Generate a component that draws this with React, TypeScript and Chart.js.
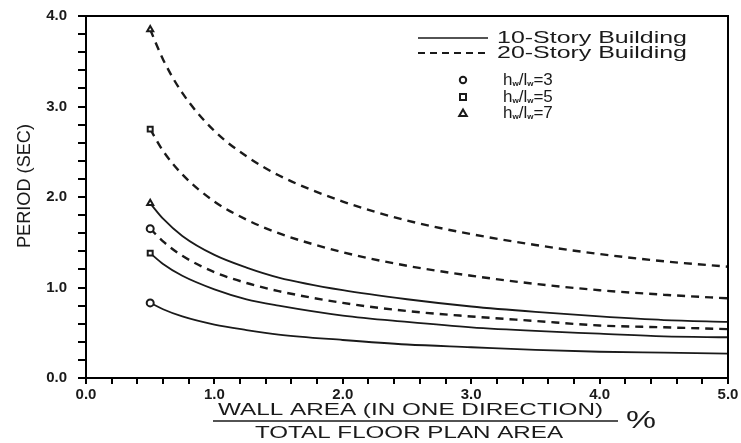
import React, { useEffect, useRef } from "react";
import { Chart, registerables } from "chart.js";

Chart.register(...registerables);

// Wall area ratio (%) sample positions
const areaPct = [0.5, 0.6, 0.75, 1.0, 1.25, 1.5, 2.0, 2.5, 3.0, 3.5, 4.0, 4.5, 5.0];

// 10-story building periods (sec)
const story10_hl3 = [0.83, 0.76, 0.68, 0.59, 0.53, 0.48, 0.42, 0.37, 0.34, 0.31, 0.29, 0.28, 0.27];
const story10_hl5 = [1.38, 1.26, 1.13, 0.98, 0.87, 0.8, 0.69, 0.62, 0.56, 0.52, 0.49, 0.46, 0.45];
const story10_hl7 = [1.93, 1.76, 1.57, 1.36, 1.22, 1.11, 0.97, 0.87, 0.79, 0.73, 0.68, 0.64, 0.62];

// 20-story building periods (sec)
const story20_hl3 = [1.65, 1.51, 1.35, 1.17, 1.05, 0.96, 0.83, 0.74, 0.68, 0.63, 0.58, 0.56, 0.54];
const story20_hl5 = [2.75, 2.51, 2.25, 1.95, 1.75, 1.6, 1.39, 1.24, 1.13, 1.04, 0.97, 0.92, 0.88];
const story20_hl7 = [3.85, 3.52, 3.15, 2.73, 2.45, 2.24, 1.95, 1.74, 1.59, 1.47, 1.37, 1.29, 1.23];

const xTickLabels = ["0.0", "1.0", "2.0", "3.0", "4.0", "5.0"];
const yTickLabels = ["0.0", "1.0", "2.0", "3.0", "4.0"];

const legendLines = ["10-Story Building", "20-Story Building"];
const legendRatios = ["3", "5", "7"];

const INK = "#1a1a1a";
const FONT = "'Liberation Sans', Arial, sans-serif";

function fitText(
  ctx: CanvasRenderingContext2D,
  text: string,
  left: number,
  cy: number,
  width: number,
  font: string
) {
  ctx.save();
  ctx.font = font;
  ctx.textAlign = "left";
  ctx.textBaseline = "middle";
  const w = ctx.measureText(text).width;
  ctx.translate(left, cy);
  ctx.scale(width / w, 1);
  ctx.fillText(text, 0, 0);
  ctx.restore();
}

function drawMarker(ctx: CanvasRenderingContext2D, kind: string, x: number, y: number) {
  ctx.save();
  ctx.setLineDash([]);
  ctx.strokeStyle = INK;
  ctx.fillStyle = "#fff";
  ctx.lineWidth = 2;
  ctx.beginPath();
  if (kind === "circle") {
    ctx.arc(x, y, 3.2, 0, Math.PI * 2);
  } else if (kind === "rect") {
    ctx.rect(x - 3, y - 3, 6, 6);
  } else {
    ctx.moveTo(x, y - 3.5);
    ctx.lineTo(x + 3.8, y + 3);
    ctx.lineTo(x - 3.8, y + 3);
    ctx.closePath();
  }
  ctx.fill();
  ctx.stroke();
  ctx.restore();
}

function drawRatio(ctx: CanvasRenderingContext2D, x: number, cy: number, val: string) {
  ctx.save();
  ctx.fillStyle = INK;
  ctx.textBaseline = "middle";
  ctx.textAlign = "left";
  const big = `17px ${FONT}`;
  const small = `bold 8px ${FONT}`;
  let cx = x;
  ctx.font = big;
  ctx.fillText("h", cx, cy);
  cx += ctx.measureText("h").width;
  ctx.font = small;
  ctx.fillText("w", cx, cy + 4);
  cx += ctx.measureText("w").width;
  ctx.font = big;
  ctx.fillText("/l", cx, cy);
  cx += ctx.measureText("/l").width;
  ctx.font = small;
  ctx.fillText("w", cx, cy + 4);
  cx += ctx.measureText("w").width;
  ctx.font = big;
  ctx.fillText("=" + val, cx, cy);
  ctx.restore();
}

const decorPlugin = {
  id: "decor",
  afterDraw(chart: any) {
    const ctx: CanvasRenderingContext2D = chart.ctx;
    const a = chart.chartArea;
    ctx.save();
    ctx.setLineDash([]);
    ctx.globalAlpha = 1;
    // frame top & right
    ctx.strokeStyle = "#000";
    ctx.lineWidth = 2;
    ctx.strokeRect(a.left, a.top, a.right - a.left, a.bottom - a.top);
    ctx.beginPath();
    ctx.moveTo(a.left - 8, a.top);
    ctx.lineTo(a.left, a.top);
    ctx.stroke();

    ctx.fillStyle = INK;
    ctx.strokeStyle = INK;
    // y-axis title
    ctx.save();
    ctx.translate(25, 186);
    ctx.rotate(-Math.PI / 2);
    fitText(ctx, "PERIOD (SEC)", -62, 0, 124, `18px ${FONT}`);
    ctx.restore();

    // x-axis title as a fraction
    fitText(ctx, "WALL AREA (IN ONE DIRECTION)", 218, 410, 385, `17px ${FONT}`);
    ctx.lineWidth = 1.5;
    ctx.beginPath();
    ctx.moveTo(213, 421);
    ctx.lineTo(618, 421);
    ctx.stroke();
    fitText(ctx, "TOTAL FLOOR PLAN AREA", 255, 433, 308, `17px ${FONT}`);
    fitText(ctx, "%", 626, 421, 30, `24px ${FONT}`);

    // legend
    ctx.lineWidth = 1.6;
    ctx.beginPath();
    ctx.moveTo(418, 38);
    ctx.lineTo(488, 38);
    ctx.stroke();
    ctx.lineWidth = 2;
    ctx.setLineDash([7, 5]);
    ctx.beginPath();
    ctx.moveTo(418, 53);
    ctx.lineTo(488, 53);
    ctx.stroke();
    ctx.setLineDash([]);
    fitText(ctx, legendLines[0], 497, 38, 190, `17px ${FONT}`);
    fitText(ctx, legendLines[1], 497, 53, 190, `17px ${FONT}`);

    const kinds = ["circle", "rect", "triangle"];
    const yy = [80, 97, 113];
    kinds.forEach((k, i) => {
      drawMarker(ctx, k, 463, yy[i]);
      drawRatio(ctx, 503, yy[i], legendRatios[i]);
    });
    ctx.restore();
  },
};

function series(vals: number[]) {
  return vals.map((v, i) => ({ x: areaPct[i], y: v }));
}

function ds(vals: number[], dashed: boolean, marker: string) {
  return {
    data: series(vals),
    borderColor: INK,
    borderWidth: dashed ? 2.4 : 1.8,
    borderDash: dashed ? [8, 6] : [],
    pointStyle: marker,
    pointRadius: vals.map((_, i) => (i === 0 ? 3.5 : 0)),
    pointBorderWidth: 2,
    pointBackgroundColor: "#fff",
    pointBorderColor: INK,
    cubicInterpolationMode: "monotone" as const,
    fill: false,
  };
}

export default function App() {
  const ref = useRef<HTMLCanvasElement | null>(null);

  useEffect(() => {
    if (!ref.current) return;
    const near = (v: number) => Math.abs(v - Math.round(v)) < 1e-6;
    const chart = new Chart(ref.current, {
      type: "line",
      data: {
        datasets: [
          ds(story10_hl3, false, "circle"),
          ds(story10_hl5, false, "rect"),
          ds(story10_hl7, false, "triangle"),
          ds(story20_hl3, true, "circle"),
          ds(story20_hl5, true, "rect"),
          ds(story20_hl7, true, "triangle"),
        ] as any,
      },
      options: {
        animation: false,
        responsive: false,
        devicePixelRatio: 1,
        layout: { padding: { top: 16, right: 13, left: 0, bottom: 0 } },
        plugins: { legend: { display: false }, tooltip: { enabled: false } },
        scales: {
          x: {
            type: "linear",
            min: 0,
            max: 5,
            afterFit(scale: any) {
              scale.height = 65;
              scale.paddingLeft = 0;
              scale.paddingRight = 0;
            },
            border: { display: true, color: "#000", width: 2 },
            grid: { display: true, drawOnChartArea: false, drawTicks: true, tickLength: 6, color: "#000", lineWidth: 2 },
            ticks: {
              stepSize: 0.2,
              maxTicksLimit: 100,
              autoSkip: false,
              maxRotation: 0,
              padding: 2,
              color: INK,
              font: { family: FONT, size: 15, weight: "bold" },
              callback: (v: any) => (near(Number(v)) ? xTickLabels[Math.round(Number(v))] : ""),
            },
          },
          y: {
            type: "linear",
            min: 0,
            max: 4,
            afterFit(scale: any) {
              scale.width = 86;
              scale.paddingTop = 0;
              scale.paddingBottom = 0;
            },
            border: { display: true, color: "#000", width: 2 },
            grid: { display: true, drawOnChartArea: false, drawTicks: true, tickLength: 8, color: "#000", lineWidth: 2 },
            ticks: {
              stepSize: 0.2,
              maxTicksLimit: 100,
              autoSkip: false,
              padding: 11,
              color: INK,
              font: { family: FONT, size: 15, weight: "bold" },
              callback: (v: any) => (near(Number(v)) ? yTickLabels[Math.round(Number(v))] : ""),
            },
          },
        },
      } as any,
      plugins: [decorPlugin],
    });
    return () => chart.destroy();
  }, []);

  return (
    <div style={{ position: "fixed", left: 0, top: 0, width: 741, height: 443, background: "#fff" }}>
      <canvas ref={ref} width={741} height={443} style={{ display: "block" }} />
    </div>
  );
}
